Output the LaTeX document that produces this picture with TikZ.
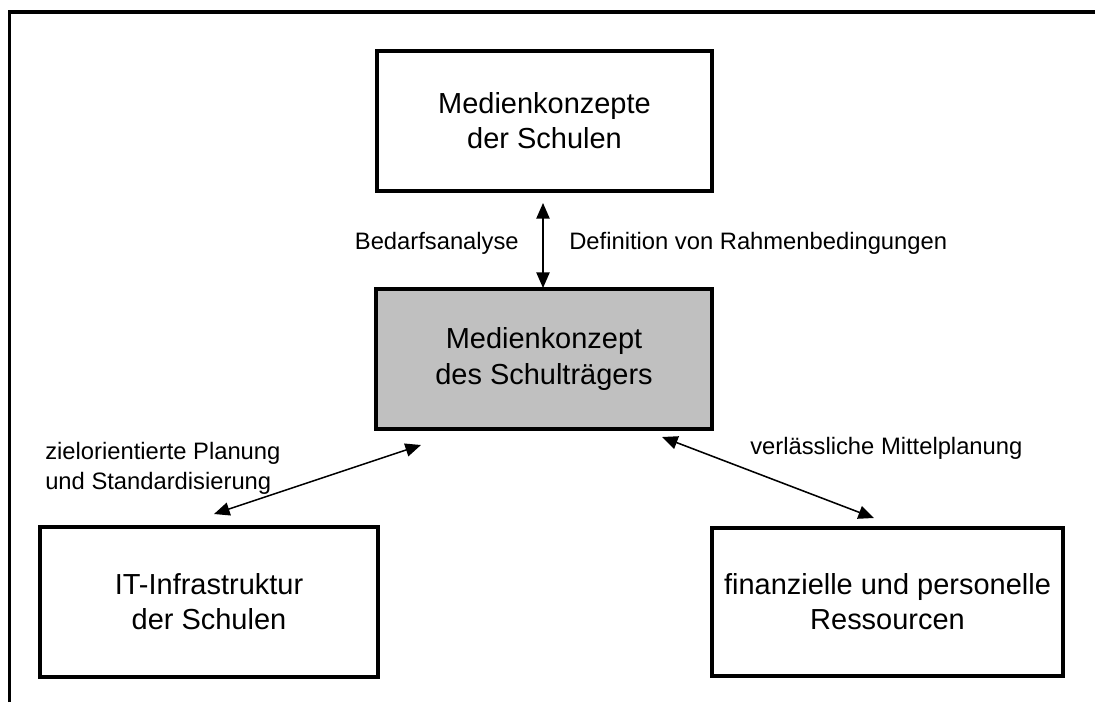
\documentclass[tikz,border=0pt]{standalone}
\usepackage{fontspec}
\setmainfont{Liberation Sans}
\usepackage{tikz}
\usetikzlibrary{arrows.meta}

\definecolor{traegergrau}{RGB}{192,192,192}

\begin{document}
\begin{tikzpicture}[x=0.025cm, y=-0.025cm,
    konzept/.style={draw, line width=2.2pt, align=center, inner sep=0pt,
      font=\fontsize{20.6}{24.9}\selectfont},
    beschriftung/.style={inner sep=0pt, font=\fontsize{16.9}{21.3}\selectfont},
    pfeil/.style={line width=1.1pt, {Triangle[length=0.39cm,width=0.33cm]}-{Triangle[length=0.39cm,width=0.33cm]}}]

    \useasboundingbox (0,0) rectangle (1095,702);

    % Rahmen (nur oben und links sichtbar)
    \draw[line width=2.4pt] (9.5,702) -- (9.5,12) -- (1095,12);

    \node[konzept, minimum width=335*0.025cm, minimum height=140*0.025cm] (schulen) at (544.5,121)
      {Medienkonzepte\\der Schulen};
    \node[konzept, fill=traegergrau, minimum width=336*0.025cm, minimum height=140*0.025cm] (traeger) at (544,359)
      {Medienkonzept\\des Schulträgers};
    \node[konzept, minimum width=338*0.025cm, minimum height=150*0.025cm] (infra) at (209,602)
      {IT-Infrastruktur\\der Schulen};
    \node[konzept, minimum width=351*0.025cm, minimum height=148*0.025cm] (ressourcen) at (887.5,602)
      {finanzielle und personelle\\Ressourcen};

    % freie Pfeilenden
    \coordinate (s1) at (543,203);
    \coordinate (s2) at (543,288);
    \coordinate (l1) at (421,445);
    \coordinate (l2) at (214,514);
    \coordinate (r1) at (662,437);
    \coordinate (r2) at (874,518);

    \draw[pfeil] (s1) -- (s2);
    \draw[pfeil] (l1) -- (l2);
    \draw[pfeil] (r1) -- (r2);

    \node[beschriftung, anchor=east] (bedarf) at (519,243) {Bedarfsanalyse};
    \node[beschriftung, anchor=west] (definition) at (569,243) {Definition von Rahmenbedingungen};
    \node[beschriftung, anchor=west, align=left] (planung) at (45,468)
      {zielorientierte Planung\\und Standardisierung};
    \node[beschriftung, anchor=west] (mittel) at (750,448) {verlässliche Mittelplanung};
  \end{tikzpicture}
\end{document}
